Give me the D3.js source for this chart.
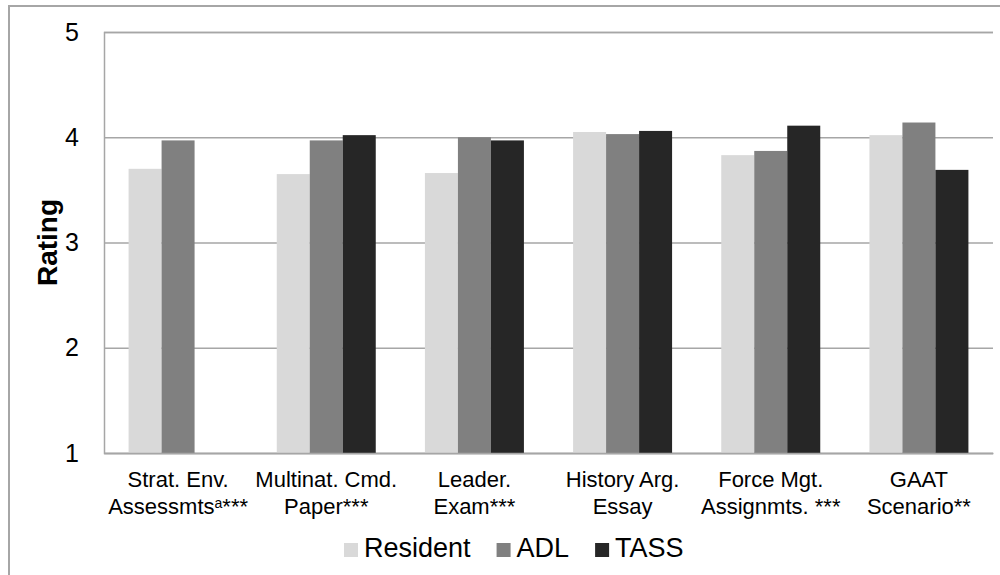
<!DOCTYPE html>
<html>
<head>
<meta charset="utf-8">
<script src="https://cdn.jsdelivr.net/npm/d3@7"></script>
<style>
  body { margin: 0; background: #fff; }
  svg { font-family: "Liberation Sans", Arial, sans-serif; }
</style>
</head>
<body>
<svg id="chart" width="1000" height="575"></svg>
<script>
// chart data
const categories = [
  ['Strat. Env.', 'Assessmts', 'a', '***'],
  ['Multinat. Cmd.', 'Paper***'],
  ['Leader.', 'Exam***'],
  ['History Arg.', 'Essay'],
  ['Force Mgt.', 'Assignmts. ***'],
  ['GAAT', 'Scenario**']
];
const seriesNames = ['Resident', 'ADL', 'TASS'];
const residentValues = [3.70, 3.65, 3.66, 4.05, 3.83, 4.02];
const adlValues = [3.97, 3.97, 4.00, 4.03, 3.87, 4.14];
const tassValues = [null, 4.02, 3.97, 4.06, 4.11, 3.69];
const yTicks = [1, 2, 3, 4, 5];

const colors = {Resident: '#d9d9d9', ADL: '#808080', TASS: '#262626'};
const gridColor = '#a6a6a6';

const svg = d3.select('#chart');
const plot = {left: 104, right: 993, top: 32, bottom: 453};

// outer frame (left + top edges visible)
svg.append('rect')
  .attr('x', 9).attr('y', 6)
  .attr('width', 1100).attr('height', 700)
  .attr('fill', 'none')
  .attr('stroke', gridColor)
  .attr('stroke-width', 2);

const yScale = d3.scaleLinear()
  .domain([1, 5])
  .range([plot.bottom, plot.top]);

const catIndex = categories.map((c, i) => i);
const x0 = d3.scaleBand()
  .domain(catIndex)
  .range([plot.left, plot.right])
  .padding(0);

const x1 = d3.scaleBand()
  .domain(seriesNames)
  .range([0, x0.bandwidth()])
  .paddingInner(0)
  .paddingOuter(0.745);

// gridlines + y labels
const yAxis = svg.append('g')
  .attr('transform', `translate(${plot.left},0)`)
  .call(d3.axisLeft(yScale)
    .tickValues(yTicks)
    .tickSize(-(plot.right - plot.left))
    .tickFormat(d3.format('d')));
yAxis.select('.domain').attr('stroke', gridColor).attr('stroke-width', 1.5);
yAxis.selectAll('.tick line').attr('stroke', gridColor).attr('stroke-width', 1.5);
yAxis.selectAll('.tick text')
  .attr('x', -25)
  .attr('font-size', 25)
  .attr('fill', '#000');

const table = categories.map((c, i) => ({
  i: i,
  values: [
    {name: 'Resident', value: residentValues[i]},
    {name: 'ADL', value: adlValues[i]},
    {name: 'TASS', value: tassValues[i]}
  ].filter(d => d.value != null)
}));

const groups = svg.append('g')
  .selectAll('g')
  .data(table)
  .join('g')
  .attr('transform', d => `translate(${x0(d.i)},0)`);

groups.selectAll('rect')
  .data(d => d.values)
  .join('rect')
  .attr('x', d => x1(d.name))
  .attr('y', d => yScale(d.value))
  .attr('width', x1.bandwidth())
  .attr('height', d => yScale(1) - yScale(d.value))
  .attr('fill', d => colors[d.name]);

// x axis line
const xAxis = svg.append('g')
  .attr('transform', `translate(0,${plot.bottom})`)
  .call(d3.axisBottom(x0).tickSize(0).tickFormat(''));
xAxis.select('.domain').attr('stroke', gridColor).attr('stroke-width', 1.5);

// category labels, two lines
const labels = svg.append('g')
  .selectAll('text')
  .data(categories)
  .join('text')
  .attr('text-anchor', 'middle')
  .attr('font-size', 22)
  .attr('fill', '#000')
  .attr('transform', (d, i) => `translate(${x0(i) + x0.bandwidth() / 2},487)`);

labels.append('tspan')
  .attr('x', 0)
  .text(d => d[0]);
labels.append('tspan')
  .attr('x', 0)
  .attr('dy', 27)
  .text(d => d[1])
  .each(function(d) {
    if (d.length > 2) {
      d3.select(this.parentNode).append('tspan')
        .attr('font-size', 14)
        .attr('baseline-shift', '40%')
        .text(d[2]);
      d3.select(this.parentNode).append('tspan')
        .text(d[3]);
    }
  });

// y axis title
svg.append('text')
  .attr('transform', `translate(57,${(plot.top + plot.bottom) / 2}) rotate(-90)`)
  .attr('text-anchor', 'middle')
  .attr('font-size', 28)
  .attr('font-weight', 'bold')
  .attr('fill', '#000')
  .text('Rating');

// legend
const legend = svg.append('g');
let lx = 344;
seriesNames.forEach(name => {
  legend.append('rect')
    .attr('x', lx).attr('y', 543)
    .attr('width', 14).attr('height', 14)
    .attr('fill', colors[name]);
  const t = legend.append('text')
    .attr('x', lx + 20).attr('y', 557)
    .attr('font-size', 27)
    .attr('fill', '#000')
    .text(name);
  lx += 20 + t.node().getComputedTextLength() + 26;
});
</script>
</body>
</html>
